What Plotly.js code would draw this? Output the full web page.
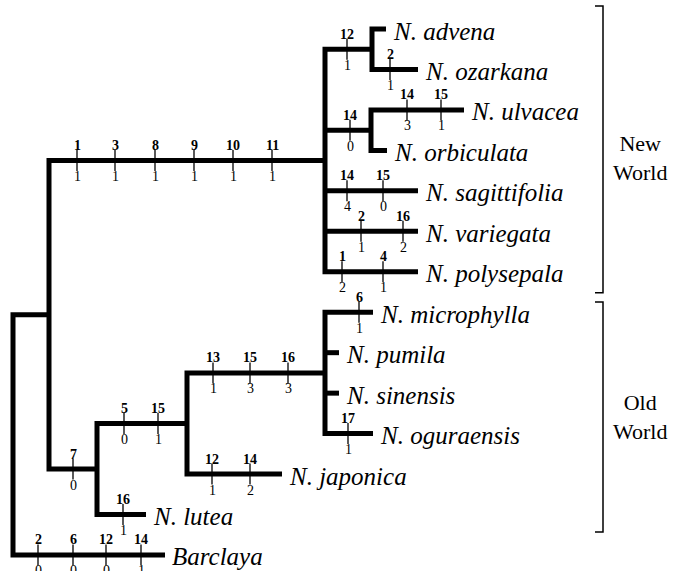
<!DOCTYPE html>
<html>
<head>
<meta charset="utf-8">
<script src="https://cdn.plot.ly/plotly-3.0.1.min.js"></script>
<style>html,body{margin:0;padding:0;background:#fff;}#chart{width:674px;height:571px;}</style>
</head>
<body>
<div id="chart"></div>
<script>
// ---- tips (terminal taxa), top-to-bottom order, and branch end positions ----
const tipNames = ['N. advena','N. ozarkana','N. ulvacea','N. orbiculata','N. sagittifolia','N. variegata','N. polysepala',
                  'N. microphylla','N. pumila','N. sinensis','N. oguraensis','N. japonica','N. lutea','Barclaya'];
const tipX = [386, 418, 464, 387, 418, 418, 418, 373, 339, 339, 373, 282, 146, 165];

// ---- internal clades ----
const cladeNames = ['root','ingroup','newWorld','advOz','ulvOrb','node7','oldWorld','owCrown'];
const cladeX = [13, 49, 325, 372, 371, 97, 187, 325];
const cladeChildren = [
  ['ingroup','Barclaya'],
  ['newWorld','node7'],
  ['advOz','ulvOrb','N. sagittifolia','N. variegata','N. polysepala'],
  ['N. advena','N. ozarkana'],
  ['N. ulvacea','N. orbiculata'],
  ['oldWorld','N. lutea'],
  ['owCrown','N. japonica'],
  ['N. microphylla','N. pumila','N. sinensis','N. oguraensis']
];

// ---- character state changes on branches ----
const charBranch = ['newWorld','newWorld','newWorld','newWorld','newWorld','newWorld',
  'advOz','N. ozarkana','ulvOrb','N. ulvacea','N. ulvacea','N. sagittifolia','N. sagittifolia',
  'N. variegata','N. variegata','N. polysepala','N. polysepala','N. microphylla','N. oguraensis',
  'owCrown','owCrown','owCrown','N. japonica','N. japonica','oldWorld','oldWorld','N. lutea','node7',
  'Barclaya','Barclaya','Barclaya','Barclaya'];
const charX = [77,115,155,194,233,272, 347,390,350,407,441,347,383, 361,403,342,383,359,348,
  213,250,288,212,250,124,158,123,73, 38,73,106,141];
const charNum = ['1','3','8','9','10','11', '12','2','14','14','15','14','15', '2','16','1','4','6','17',
  '13','15','16','12','14','5','15','16','7', '2','6','12','14'];
const charState = ['1','1','1','1','1','1', '1','1','0','3','1','4','0', '1','2','2','1','1','1',
  '1','3','3','1','2','0','1','1','0', '0','0','0','1'];

// ---- geographic groups (bracket extents in tip units) ----
const groupNames = ['New<br>World','Old<br>World'];
const groupTop = [-0.57, 6.75];
const groupBottom = [6.52, 12.43];
const groupLabelY = [3.2, 9.6];

// ---- compute node coordinates ----
const X = {}, Y = {};
tipNames.forEach((n,i)=>{ X[n]=tipX[i]; Y[n]=i; });
cladeNames.forEach((n,i)=>{ X[n]=cladeX[i]; });
function yOf(n){
  if (Y[n] !== undefined) return Y[n];
  const ch = cladeChildren[cladeNames.indexOf(n)];
  const ys = ch.map(yOf);
  Y[n] = (ys[0] + ys[ys.length-1]) / 2;
  return Y[n];
}
yOf('root');

// ---- tree lines ----
const lx = [], ly = [];
cladeNames.forEach((n,i)=>{
  const ch = cladeChildren[i];
  const f = ch[0], l = ch[ch.length-1];
  lx.push(X[f], X[n], X[n], X[l], null);
  ly.push(Y[f], Y[f], Y[l], Y[l], null);
  ch.slice(1,-1).forEach(c=>{ lx.push(X[n], X[c], null); ly.push(Y[c], Y[c], null); });
});

const traces = [];
traces.push({x: lx, y: ly, mode:'lines', line:{color:'#000', width:5}, hoverinfo:'skip', showlegend:false});

// tick marks for character changes
traces.push({x: charX, y: charBranch.map(b=>Y[b]), mode:'markers',
  marker:{symbol:'line-ns', size:15, line:{color:'#000', width:1.3}}, hoverinfo:'skip', showlegend:false});

// brackets
const bx = [], by = [];
groupNames.forEach((g,i)=>{
  bx.push(595, 603, 603, 595, null);
  by.push(groupTop[i], groupTop[i], groupBottom[i], groupBottom[i], null);
});
traces.push({x: bx, y: by, mode:'lines', line:{color:'#000', width:1.5}, hoverinfo:'skip', showlegend:false});

// ---- annotations ----
const serif = 'Liberation Serif';
const ann = [];
tipNames.forEach((n,i)=>{
  ann.push({x: X[n], y: Y[n], text: '<i>'+n+'</i>', showarrow:false, xanchor:'left', yanchor:'middle',
    xshift: 5, yshift: -2, font:{family: serif, size: 25, color:'#000'}});
});
charX.forEach((cx,i)=>{
  const yy = Y[charBranch[i]];
  ann.push({x: cx, y: yy, text: '<b>'+charNum[i]+'</b>', showarrow:false, xanchor:'center', yanchor:'middle',
    yshift: 15, font:{family: serif, size: 14, color:'#000'}});
  ann.push({x: cx, y: yy, text: charState[i], showarrow:false, xanchor:'center', yanchor:'middle',
    yshift: -16, font:{family: serif, size: 14, color:'#000'}});
});
groupNames.forEach((g,i)=>{
  ann.push({x: 640, y: groupLabelY[i], text: g, showarrow:false, xanchor:'center', yanchor:'middle',
    font:{family: serif, size: 22, color:'#000'}});
});

const layout = {
  width: 674, height: 571,
  margin: {l:0, r:0, t:0, b:0},
  paper_bgcolor:'#fff', plot_bgcolor:'#fff',
  font: {family: serif, color:'#000'},
  xaxis: {range:[0, 674], visible:false, fixedrange:true},
  yaxis: {range:[13.396, -0.717], visible:false, fixedrange:true},
  annotations: ann,
  showlegend:false
};
Plotly.newPlot('chart', traces, layout, {displayModeBar:false, staticPlot:true});
</script>
</body>
</html>
